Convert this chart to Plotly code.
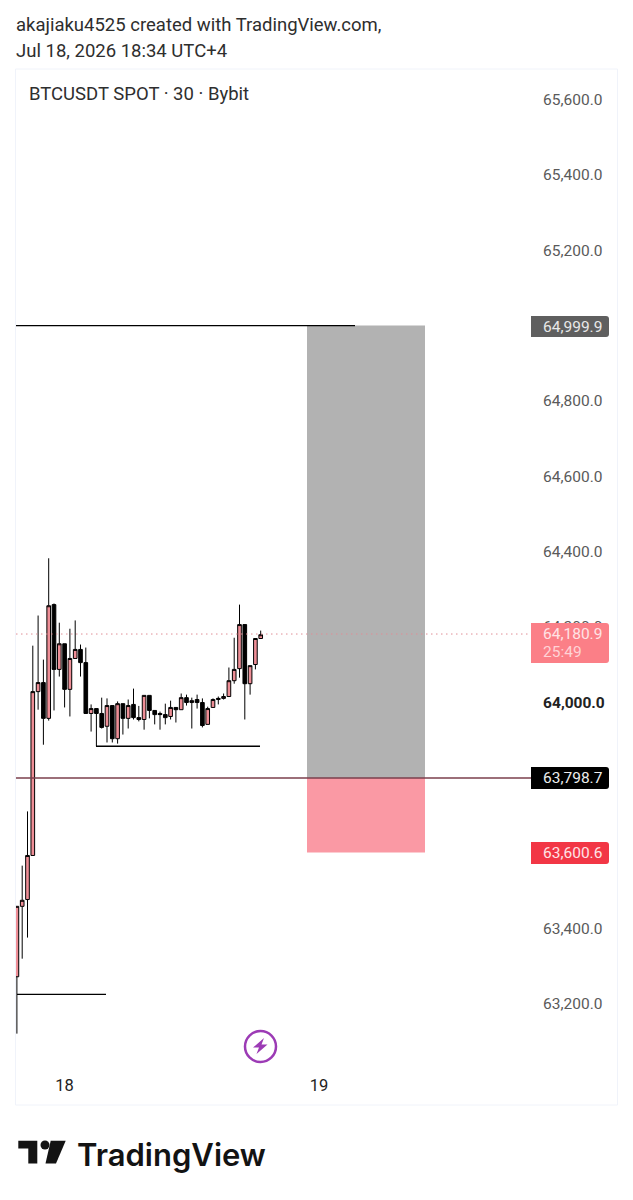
import plotly.graph_objects as go

# the page keeps a margin of 8 px round the figure
PAGE = 8
W, H = 633 - PAGE, 1200 - PAGE

# candles, bar index = 30 minute bars
opens = [63271, 63458, 63476, 63593, 64028, 64052, 63957, 64259, 64087, 64155, 64034, 64116,
         64140, 64105, 63970, 63983, 63970, 63936, 63991, 63903, 63996, 63957, 63994, 63959,
         63954, 64018, 63978, 63970, 63967, 63962, 63986, 63980, 64012, 63999, 64007, 63999,
         63941, 63986, 64007, 64010, 64015, 64057, 64089, 64206, 64049, 64100, 64169]
highs = [63458, 63566, 63710, 64150, 64230, 64113, 64382, 64262, 64211, 64155, 64195, 64217,
         64153, 64145, 63994, 63983, 64012, 64010, 63991, 64002, 63996, 64007, 64036, 63990,
         64018, 64018, 63978, 63975, 63996, 64004, 63986, 64023, 64020, 64012, 64020, 64010,
         63988, 64010, 64015, 64023, 64092, 64171, 64259, 64206, 64097, 64169, 64190]
lows = [63120, 63319, 63375, 63593, 63980, 63887, 63951, 63978, 64068, 63986, 63962, 64116,
        64068, 63970, 63922, 63883, 63930, 63893, 63893, 63890, 63914, 63930, 63954, 63949,
        63927, 63957, 63941, 63927, 63941, 63954, 63946, 63980, 63991, 63930, 63983, 63933,
        63941, 63986, 63994, 64007, 64015, 64049, 64065, 63954, 64020, 64087, 64169]
closes = [63458, 63474, 63593, 64028, 64052, 63957, 64256, 64087, 64155, 64034, 64116, 64140,
          64105, 63970, 63983, 63970, 63933, 63991, 63903, 63996, 63957, 63991, 63959, 63954,
          64018, 63978, 63967, 63967, 63959, 63986, 63980, 64012, 63999, 64004, 63999, 63938,
          63983, 64007, 64010, 64015, 64057, 64087, 64206, 64049, 64097, 64169, 64179]

price_ticks = [63200, 63400, 63600, 63800, 64000, 64200, 64400, 64600, 64800, 65000, 65200, 65400, 65600]
price_text = ["63,200.0", "63,400.0", "", "", "<b style='color:#222'>64,000.0</b>", "64,200.0", "64,400.0",
              "64,600.0", "64,800.0", "", "65,200.0", "65,400.0", "65,600.0"]
day_ticks = [9, 57]
day_text = ["18", "19"]

target = 64999.9
entry = 63798.7
stop = 63600.6
last = 64180.9
low_a = 63883
low_b = 63224


def px(x):
    return (x - PAGE) / W


def py(y):
    return 1 - (y - PAGE) / H


def bar(x):
    return (x - 16.9) / 5.3


def price(y):
    return 65600 - (y - 99.5) * 2400 / 904


def tag(x0, x1, y0, y1, color):
    # price tag, rounded on the right only
    r = 3
    return dict(type="path", xref="paper", yref="paper", layer="above", line_width=0, fillcolor=color,
                path=f"M{px(x0)},{py(y0)} L{px(x1-r)},{py(y0)} Q{px(x1)},{py(y0)} {px(x1)},{py(y0+r)} "
                     f"L{px(x1)},{py(y1-r)} Q{px(x1)},{py(y1)} {px(x1-r)},{py(y1)} L{px(x0)},{py(y1)} Z")


def label(x, y, text, size=15.5, color="#4a4a4a", family="Roboto", weight=400):
    # annotations sit about 2 px right of the x they are given
    return dict(x=px(x - 2), y=py(y), xref="paper", yref="paper", text=text, showarrow=False, xanchor="left",
                yanchor="middle", font=dict(family=family, size=size, color=color, weight=weight))


fig = go.Figure(go.Candlestick(
    x=list(range(len(opens))), open=opens, high=highs, low=lows, close=closes,
    whiskerwidth=0,
    increasing=dict(fillcolor="#EE8E96", line=dict(color="#000000", width=1)),
    decreasing=dict(fillcolor="#000000", line=dict(color="#000000", width=1)),
))

shapes = [
    # chart frame
    dict(type="rect", xref="paper", yref="paper", x0=px(15.5), x1=px(617.5), y0=py(69), y1=py(1105),
         line=dict(color="#F0F3FA", width=1), layer="below"),
    # long position box
    dict(type="rect", x0=bar(307), x1=bar(425), y0=entry, y1=target, fillcolor="#B2B2B2",
         line_width=0, layer="below"),
    dict(type="rect", x0=bar(307), x1=bar(425), y0=stop, y1=entry, fillcolor="#FA99A4",
         line_width=0, layer="below"),
    dict(type="line", x0=bar(16), x1=bar(355), y0=target, y1=target, line=dict(color="#000000", width=1.3)),
    dict(type="line", x0=bar(16), x1=bar(531), y0=entry, y1=entry, line=dict(color="#7B3F4C", width=1.5)),
    dict(type="line", x0=bar(16), x1=bar(531), y0=last, y1=last,
         line=dict(color="#E08E96", width=1, dash="1.5px,3.5px")),
    dict(type="line", x0=bar(96), x1=bar(260), y0=low_a, y1=low_a, line=dict(color="#000000", width=1.3)),
    dict(type="line", x0=bar(17), x1=bar(106), y0=low_b, y1=low_b, line=dict(color="#000000", width=1.3)),
    # price tags
    tag(531, 609, 623, 663, "#FB7F87"),
    tag(531, 609, 316, 337, "#5F5F5F"),
    tag(531, 609, 767, 789, "#000000"),
    tag(531, 609, 842, 864, "#F23645"),
    # lightning icon
    dict(type="circle", xref="paper", yref="paper", x0=px(245), x1=px(276), y0=py(1062), y1=py(1031),
         line=dict(color="#9C3BB5", width=2.5)),
    dict(type="path", xref="paper", yref="paper", fillcolor="#9C3BB5", line_width=0,
         path=f"M{px(264)},{py(1038)} L{px(253)},{py(1047.5)} L{px(259)},{py(1047.5)} L{px(256.5)},{py(1054)} "
              f"L{px(267.5)},{py(1044.5)} L{px(261.5)},{py(1044.5)} Z"),
    # TradingView logo
    dict(type="path", xref="paper", yref="paper", fillcolor="#131313", line_width=0,
         path=f"M{px(18.3)},{py(1140.7)} L{px(37.3)},{py(1140.7)} L{px(37.3)},{py(1163.5)} L{px(28.3)},{py(1163.5)} "
              f"L{px(28.3)},{py(1148.5)} L{px(18.3)},{py(1148.5)} Z"),
    dict(type="circle", xref="paper", yref="paper", fillcolor="#131313", line_width=0,
         x0=px(40.5), x1=px(49.5), y0=py(1149.5), y1=py(1140.5)),
    dict(type="path", xref="paper", yref="paper", fillcolor="#131313", line_width=0,
         path=f"M{px(50.7)},{py(1140.7)} L{px(65.7)},{py(1140.7)} L{px(56)},{py(1163.5)} L{px(45.5)},{py(1163.5)} Z"),
]

annotations = [
    label(16, 25, "akajiaku4525 created with TradingView.com,", size=18.5, color="#2e2e2e"),
    label(16, 51, "Jul 18, 2026 18:34 UTC+4", size=18.5, color="#2e2e2e"),
    label(29, 93.5, "BTCUSDT SPOT · 30 · Bybit", size=18.5, color="#2e2e2e"),
    label(543, 634, f"{last:,.1f}", color="#FFE3E5"),
    label(543, 652, "25:49", color="#FFD3D6"),
    label(543, 326.5, f"{target:,.1f}", color="#E8E8E8"),
    label(543, 778, f"{entry:,.1f}", color="#EDEDED"),
    label(543, 853, f"{stop:,.1f}", color="#FFE3E5"),
    label(77, 1154, "TradingView", size=31, color="#131313", family="Inter", weight=600),
]

fig.update_layout(
    width=W, height=H, margin=dict(l=0, r=0, t=0, b=0), paper_bgcolor="#FFFFFF", plot_bgcolor="#FFFFFF",
    showlegend=False, shapes=shapes, annotations=annotations, boxgap=0.02,
    xaxis=dict(domain=[px(16), px(531)], range=[bar(16), bar(531)], rangeslider_visible=False,
               showgrid=False, zeroline=False, showline=False, tickmode="array", tickvals=day_ticks,
               ticktext=day_text, ticks="outside", ticklen=3, tickcolor="rgba(0,0,0,0)",
               tickfont=dict(family="Roboto", size=16.5, color="#222222")),
    yaxis=dict(domain=[py(1067), py(69)], range=[price(1067), price(69)], side="right",
               showgrid=False, zeroline=False, showline=False, tickmode="array", tickvals=price_ticks,
               ticktext=price_text, ticks="outside", ticklen=8, tickcolor="rgba(0,0,0,0)",
               tickfont=dict(family="Roboto", size=15.5, color="#5a5a5a")),
)

fig.write_html("out.html")
